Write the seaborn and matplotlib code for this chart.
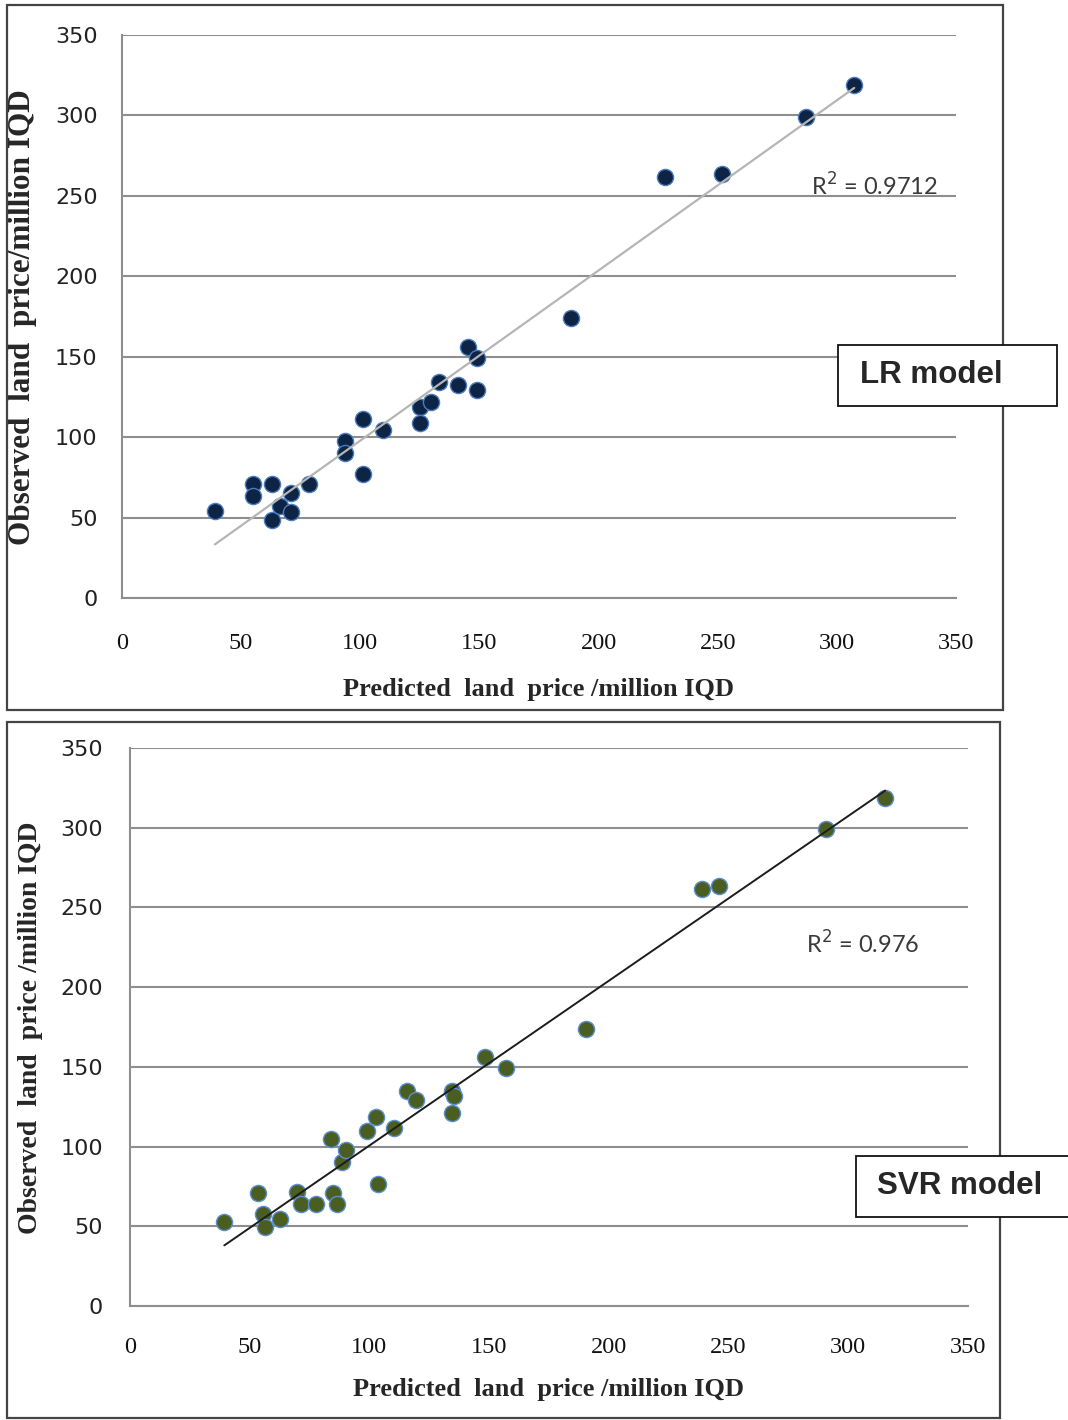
import numpy as np
import pandas as pd
import matplotlib
matplotlib.use("Agg")
import matplotlib.pyplot as plt
from matplotlib.patches import Rectangle
import seaborn as sns

# values
lr_pred = [39.0, 54.8, 54.8, 62.8, 62.8, 66.3, 70.9, 70.9, 78.6, 93.6, 93.6,
           101.3, 101.3, 109.4, 125.1, 125.1, 129.7, 133.2, 141.1, 145.3,
           149.1, 149.1, 188.4, 227.9, 251.7, 286.9, 307.3]
lr_obs = [53.9, 70.8, 63.4, 70.8, 48.5, 57.2, 65.1, 53.6, 70.8, 97.8, 90.3,
          111.0, 77.1, 104.4, 118.9, 109.0, 121.6, 134.4, 132.4, 156.2,
          149.0, 129.3, 173.8, 261.8, 263.5, 298.8, 318.8]

svr_pred = [39.4, 53.6, 55.7, 56.4, 62.7, 69.6, 71.4, 77.7, 83.8, 84.7, 86.6,
            88.4, 90.2, 98.9, 102.6, 103.4, 110.4, 115.8, 119.5, 134.4, 135.3,
            134.4, 148.3, 157.2, 190.5, 238.9, 246.2, 290.6, 315.4]
svr_obs = [52.9, 71.1, 57.7, 49.8, 54.4, 71.3, 63.8, 63.8, 104.6, 71.1, 63.8,
           90.5, 97.9, 109.8, 118.4, 76.5, 111.5, 135.1, 129.2, 135.1, 131.7,
           120.9, 156.0, 149.1, 173.8, 261.6, 263.1, 299.0, 318.5]

ticks = [0, 50, 100, 150, 200, 250, 300, 350]
xlabel = "Predicted  land  price /million IQD"
lr_ylabel = "Observed  land  price/million IQD"
svr_ylabel = "Observed  land  price /million IQD"

GRID = "#8e8e8e"


def style_axes(ax, xpad, ypad):
    ax.set_xlim(0, 350)
    ax.set_ylim(0, 350)
    ax.set_xticks(ticks)
    ax.set_yticks(ticks)
    ax.set_axisbelow(True)
    ax.grid(axis="y", color=GRID, lw=1.5)
    ax.grid(axis="x", visible=False)
    for side in ["top", "right"]:
        ax.spines[side].set_visible(False)
    for side in ["left", "bottom"]:
        ax.spines[side].set_color(GRID)
        ax.spines[side].set_linewidth(1.5)
    ax.tick_params(axis="both", direction="out", length=6.5, width=1.4, color=GRID)
    ax.tick_params(axis="x", pad=xpad)
    ax.tick_params(axis="y", pad=ypad)
    for lab in ax.get_yticklabels():
        lab.set_fontfamily("DejaVu Sans")
        lab.set_fontsize(16)
        lab.set_color("#222222")
    for lab in ax.get_xticklabels():
        lab.set_fontfamily("Liberation Serif")
        lab.set_fontsize(17.5)
        lab.set_color("#111111")


def main():
    sns.set_style("white")
    fig = plt.figure(figsize=(10.68, 14.2), dpi=100)

    # panel frames
    fig.patches.append(Rectangle((0.0066, 0.5), 0.9326, 0.4965, transform=fig.transFigure,
                                 fill=False, ec="#444444", lw=1.6))
    fig.patches.append(Rectangle((0.0066, 0.0014), 0.9298, 0.4901, transform=fig.transFigure,
                                 fill=False, ec="#444444", lw=1.6))

    # ---- LR panel
    ax1 = fig.add_axes([0.1142, 0.5789, 0.7809, 0.3965])
    lr_df = pd.DataFrame({"pred": lr_pred, "obs": lr_obs})
    sns.regplot(data=lr_df, x="pred", y="obs", ax=ax1, ci=None,
                scatter_kws=dict(s=135, color="#0e2444", edgecolors="#4b7cc0", linewidths=1.0, alpha=1),
                line_kws=dict(color="#b5b5b5", lw=1.6))
    style_axes(ax1, xpad=19, ypad=11)
    ax1.set_xlabel(xlabel, family="Liberation Serif", weight="bold", fontsize=19)
    ax1.set_ylabel(lr_ylabel, family="Liberation Serif", weight="bold", fontsize=22.5)
    ax1.xaxis.set_label_coords(0.5, -0.142)
    ax1.yaxis.set_label_coords(-0.102, 0.499)
    ax1.text(289, 256, "R$^2$ = 0.9712", family="Lato", fontsize=17, color="#3a3a3a",
             ha="left", va="center")

    # ---- SVR panel
    ax2 = fig.add_axes([0.1217, 0.0803, 0.7846, 0.3930])
    svr_df = pd.DataFrame({"pred": svr_pred, "obs": svr_obs})
    sns.regplot(data=svr_df, x="pred", y="obs", ax=ax2, ci=None,
                scatter_kws=dict(s=135, color="#4b5e22", edgecolors="#5b8fd0", linewidths=1.0, alpha=1),
                line_kws=dict(color="#1c1c1c", lw=1.4))
    style_axes(ax2, xpad=16, ypad=13)
    ax2.set_xlabel(xlabel, family="Liberation Serif", weight="bold", fontsize=19)
    ax2.set_ylabel(svr_ylabel, family="Liberation Serif", weight="bold", fontsize=20)
    ax2.xaxis.set_label_coords(0.5, -0.129)
    ax2.yaxis.set_label_coords(-0.104, 0.498)
    ax2.text(282.4, 227, "R$^2$ = 0.976", family="Lato", fontsize=17, color="#3a3a3a",
             ha="left", va="center")

    # model name boxes
    fig.patches.append(Rectangle((0.7846, 0.7141), 0.2051, 0.0430, transform=fig.transFigure,
                                 fc="white", ec="#111111", lw=1.3, zorder=5))
    fig.text(0.8052, 0.7356, "LR model", family="Liberation Sans", weight="bold",
             fontsize=22.5, ha="left", va="center", zorder=6)
    fig.patches.append(Rectangle((0.8015, 0.1430), 0.2100, 0.0430, transform=fig.transFigure,
                                 fc="white", ec="#111111", lw=1.3, zorder=5))
    fig.text(0.8212, 0.1648, "SVR model", family="Liberation Sans", weight="bold",
             fontsize=22.5, ha="left", va="center", zorder=6)

    fig.savefig("out.png", dpi=100)


if __name__ == "__main__":
    main()
